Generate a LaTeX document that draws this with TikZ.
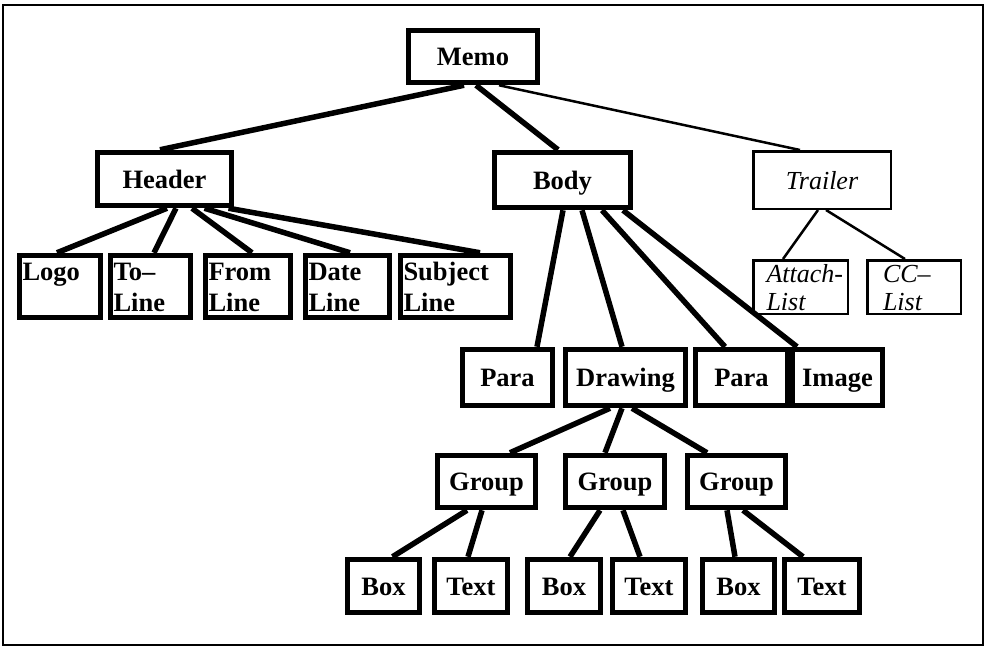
\documentclass[tikz,border=0pt]{standalone}
\usepackage{fontspec}
\setmainfont{Liberation Serif}
\usetikzlibrary{positioning}

\begin{document}
\begin{tikzpicture}[x=1pt,y=-1pt,
    blk/.style={draw, line width=5.5pt, inner sep=0pt, text height=18pt, text depth=0pt,
      font=\bfseries\fontsize{26.5}{31}\selectfont},
    thinblk/.style={draw, line width=2.5pt, inner sep=0pt, text height=18pt, text depth=0pt,
      font=\itshape\fontsize{26}{28}\selectfont},
    leaf/.style={align=left, text width=#1, text height=18pt, text depth=31pt},
    link/.style={line width=5.5pt},
    thinlink/.style={line width=2.5pt}]

      \useasboundingbox (0,0) rectangle (988,651);
      \draw[line width=1.5pt] (3,5) rectangle (983,645);

      % top levels
      \node[blk, minimum width=129, minimum height=52] (memo) at (473,56.5) {Memo};
      \node[blk, minimum width=134, minimum height=53] (header) at (164.5,179) {Header};
      \node[blk, minimum width=136, minimum height=55] (body) at (562.5,180) {Body};
      \node[thinblk, minimum width=137.5, minimum height=57.5] (trailer) at (822,180) {Trailer};

      % header parts
      \node[blk, leaf=75, minimum width=81, minimum height=62] (logo) at (60,286.5) {Logo};
      \node[blk, leaf=74, minimum width=80, minimum height=62] (toline) at (150.5,286.5) {To\textendash\\Line};
      \node[blk, leaf=79, minimum width=85, minimum height=62] (fromline) at (248,286.5) {From\\Line};
      \node[blk, leaf=78, minimum width=84, minimum height=62] (dateline) at (347.5,286.5) {Date\\Line};
      \node[blk, leaf=104, minimum width=110, minimum height=62] (subjline) at (455.5,286.5) {Subject\\Line};

      % trailer parts
      \node[thinblk, leaf=68, minimum width=94.5, minimum height=53.5, text depth=27pt] (attach) at (800.5,287) {\mbox{Attach-}\\List};
      \node[thinblk, leaf=62, minimum width=93.5, minimum height=53.5, text depth=27pt] (cclist) at (914,287) {CC\textendash\\List};

      % body parts
      \node[blk, minimum width=90, minimum height=56] (para1) at (507.5,377.5) {Para};
      \node[blk, minimum width=120, minimum height=56] (drawing) at (625.5,377.5) {Drawing};
      \node[blk, minimum width=92, minimum height=56] (para2) at (741.5,377.5) {Para};
      \node[blk, minimum width=90, minimum height=56] (image) at (837.5,377.5) {Image};

      \node[blk, minimum width=98, minimum height=52] (group1) at (486.5,481.5) {Group};
      \node[blk, minimum width=99, minimum height=52] (group2) at (615,481.5) {Group};
      \node[blk, minimum width=98, minimum height=52] (group3) at (736.5,481.5) {Group};

      \node[blk, minimum width=72, minimum height=53] (box1) at (383.5,586) {Box};
      \node[blk, minimum width=73, minimum height=53] (text1) at (471,586) {Text};
      \node[blk, minimum width=73, minimum height=53] (box2) at (564,586) {Box};
      \node[blk, minimum width=73, minimum height=53] (text2) at (649,586) {Text};
      \node[blk, minimum width=72, minimum height=53] (box3) at (738.5,586) {Box};
      \node[blk, minimum width=75, minimum height=53] (text3) at (822,586) {Text};

      % links
      \draw[link] ([xshift=-9]memo.south) -- ([xshift=-4.5]header.north);
      \draw[link] ([xshift=3]memo.south) -- ([xshift=-4.5]body.north);
      \draw[thinlink] ([xshift=26]memo.south) -- ([xshift=-22]trailer.north);

      \draw[link] ([xshift=2.5]header.south) -- ([xshift=-3]logo.north);
      \draw[link] ([xshift=11.5]header.south) -- ([xshift=3.5]toline.north);
      \draw[link] ([xshift=27.5]header.south) -- ([xshift=4]fromline.north);
      \draw[link] ([xshift=40]header.south) -- ([xshift=2.5]dateline.north);
      \draw[link] ([xshift=64]header.south) -- ([xshift=24.5]subjline.north);

      \draw[thinlink] ([xshift=-4]trailer.south) -- ([xshift=-17.5]attach.north);
      \draw[thinlink] ([xshift=4]trailer.south) -- ([xshift=-9]cclist.north);

      \draw[link] ([xshift=0.5]body.south) -- ([xshift=29.5]para1.north);
      \draw[link] ([xshift=19.5]body.south) -- ([xshift=-3.5]drawing.north);
      \draw[link] ([xshift=39.5]body.south) -- ([xshift=-16.5]para2.north);
      \draw[link] ([xshift=60.5]body.south) -- ([xshift=-40.5]image.north);

      \draw[link] ([xshift=-15.5]drawing.south) -- ([xshift=23.5]group1.north);
      \draw[link] ([xshift=-3.5]drawing.south) -- ([xshift=-10]group2.north);
      \draw[link] ([xshift=6.5]drawing.south) -- ([xshift=-29.5]group3.north);

      \draw[link] ([xshift=-19.5]group1.south) -- ([xshift=9]box1.north);
      \draw[link] ([xshift=-4.5]group1.south) -- ([xshift=-3]text1.north);
      \draw[link] ([xshift=-15]group2.south) -- ([xshift=6]box2.north);
      \draw[link] ([xshift=8]group2.south) -- ([xshift=-9]text2.north);
      \draw[link] ([xshift=-9.5]group3.south) -- ([xshift=-3.5]box3.north);
      \draw[link] ([xshift=6.5]group3.south) -- ([xshift=-19]text3.north);
    \end{tikzpicture}
\end{document}
